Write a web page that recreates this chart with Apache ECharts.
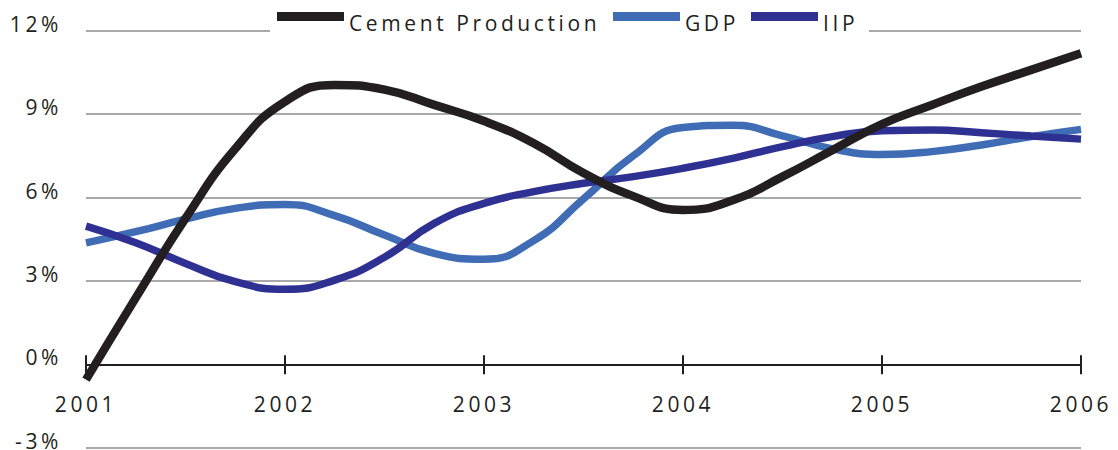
<!DOCTYPE html>
<html>
<head>
<meta charset="utf-8">
<script src="https://cdn.jsdelivr.net/npm/echarts@6/dist/echarts.min.js"></script>
<style>
  html, body { margin: 0; padding: 0; background: #ffffff; }
  #chart { width: 1118px; height: 450px; }
  #chart text { letter-spacing: 3.6px; }
</style>
</head>
<body>
<div id="chart"></div>
<script>
// Growth rates, sampled every quarter of a year
const periods = [2001, 2001.25, 2001.5, 2001.75, 2002, 2002.25, 2002.5, 2002.75,
                 2003, 2003.25, 2003.5, 2003.75, 2004, 2004.25, 2004.5, 2004.75,
                 2005, 2005.25, 2005.5, 2005.75, 2006];
const cementProduction = [-0.55, 2.39, 5.25, 7.75, 9.45, 10.05, 9.88, 9.33,
                          8.75, 7.95, 6.88, 6.05, 5.55, 5.9, 6.75, 7.7,
                          8.64, 9.33, 9.99, 10.59, 11.19];
const gdp = [4.37, 4.77, 5.22, 5.61, 5.75, 5.35, 4.65, 3.99,
             3.78, 4.45, 5.95, 7.5, 8.52, 8.6, 8.22, 7.75,
             7.55, 7.65, 7.89, 8.19, 8.45];
const iip = [4.97, 4.37, 3.63, 2.97, 2.70, 3.03, 3.85, 5.07,
             5.79, 6.21, 6.51, 6.75, 7.05, 7.41, 7.83, 8.19,
             8.40, 8.43, 8.33, 8.21, 8.10];
const yearLabels = ['2001', '2002', '2003', '2004', '2005', '2006'];

const FONT = '"Open Sans", "DejaVu Sans", sans-serif';
const INK = '#231f20';
const COLORS = { 'Cement Production': '#231f20', 'GDP': '#3f6cb5', 'IIP': '#2e3192' };

const pairs = (ys) => periods.map((x, i) => [x, ys[i]]);

function lineSeries(name, values, width) {
  return {
    name: name,
    type: 'line',
    data: pairs(values),
    smooth: 0.5,
    symbol: 'none',
    color: COLORS[name],
    itemStyle: { color: COLORS[name] },
    lineStyle: { color: COLORS[name], width: width, cap: 'butt' },
    z: 2
  };
}

function legendFor(name, left) {
  return {
    data: [name],
    left: left,
    top: 12,
    padding: 0,
    icon: 'rect',
    itemWidth: 67,
    itemHeight: 9,
    selectedMode: false,
    formatter: '{t|{name}}',
    textStyle: {
      fontFamily: FONT, fontSize: 21, color: INK,
      rich: {
        t: { fontFamily: FONT, fontSize: 21, color: INK, padding: [12, 0, 0, 0] }
      }
    }
  };
}

const chart = echarts.init(document.getElementById('chart'), null, { renderer: 'svg' });

chart.setOption({
  animation: false,
  backgroundColor: '#ffffff',
  grid: { left: 86, right: 37, top: 30.7, bottom: 2.3, containLabel: false, outerBoundsMode: 'none' },
  legend: [
    legendFor('Cement Production', 277),
    legendFor('GDP', 613),
    legendFor('IIP', 751)
  ],
  graphic: {
    elements: [{
      type: 'rect',
      z: 3,
      shape: { x: 270, y: 24, width: 599, height: 14 },
      style: { fill: '#ffffff' },
      silent: true
    }]
  },
  xAxis: [
    {
      type: 'value',
      min: 2001, max: 2006, interval: 1,
      position: 'bottom',
      z: 1,
      axisLine: { onZero: true, onZeroAxisIndex: 0, lineStyle: { color: INK, width: 2 } },
      axisTick: { show: true, inside: false, length: 10, lineStyle: { color: INK, width: 2 } },
      axisLabel: {
        margin: -54,
        fontFamily: FONT, fontSize: 21, color: INK,
        formatter: (v) => yearLabels[yearLabels.indexOf(String(v))] || ''
      },
      splitLine: { show: false }
    },
    {
      // upper half of the year tick marks
      type: 'value',
      min: 2001, max: 2006, interval: 1,
      position: 'top',
      z: 1,
      axisLine: { show: false, onZero: true, onZeroAxisIndex: 0 },
      axisTick: { show: true, inside: false, length: 9, lineStyle: { color: INK, width: 2 } },
      axisLabel: { show: false },
      splitLine: { show: false }
    }
  ],
  yAxis: {
    type: 'value',
    min: -3, max: 12, interval: 3,
    axisLine: { show: false },
    axisTick: { show: false },
    axisLabel: {
      margin: 24,
      fontFamily: FONT, fontSize: 21, color: INK,
      verticalAlign: 'bottom',
      lineHeight: 14,
      formatter: '{value}%'
    },
    splitLine: { lineStyle: { color: '#a7a9ac', width: 2 } }
  },
  series: [
    lineSeries('GDP', gdp, 7.5),
    lineSeries('IIP', iip, 7.5),
    lineSeries('Cement Production', cementProduction, 8.5)
  ]
});
</script>
</body>
</html>
